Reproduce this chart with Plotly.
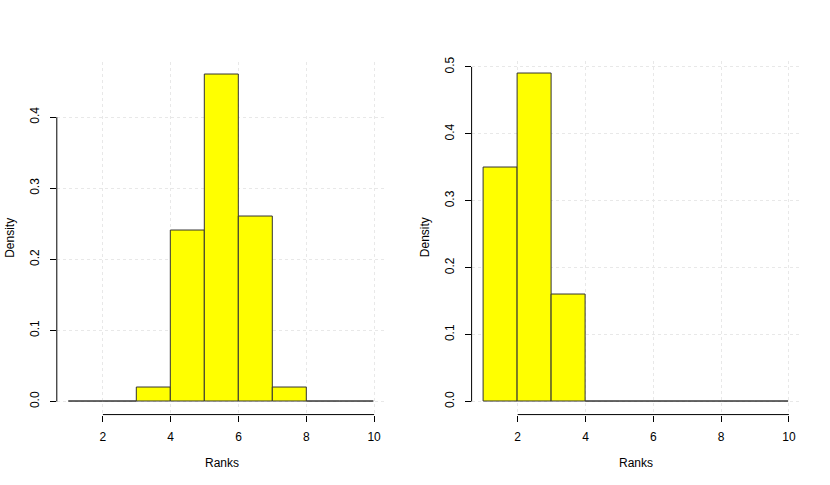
import plotly.graph_objects as go

# bin edges shared by both histograms (ranks 1..10, unit width)
bin_edges = [1, 2, 3, 4, 5, 6, 7, 8, 9, 10]
left_density = [0.0, 0.0, 0.02, 0.24, 0.46, 0.26, 0.02, 0.0, 0.0]
right_density = [0.35, 0.49, 0.16, 0.0, 0.0, 0.0, 0.0, 0.0, 0.0]

x_ticks = [2, 4, 6, 8, 10]
left_y_ticks = [0.0, 0.1, 0.2, 0.3, 0.4]
right_y_ticks = [0.0, 0.1, 0.2, 0.3, 0.4, 0.5]

W, H = 830, 485
FONT = "Liberation Sans, Arial, sans-serif"


def r_range(lo, hi):
    pad = (hi - lo) * 0.04
    return [lo - pad, hi + pad]


centers = [(a + b) / 2 for a, b in zip(bin_edges[:-1], bin_edges[1:])]
widths = [b - a for a, b in zip(bin_edges[:-1], bin_edges[1:])]

fig = go.Figure()
panels = [
    ("x", "y", left_density, left_y_ticks, (56.8, 386.3), (414, 58)),
    ("x2", "y2", right_density, right_y_ticks, (471.6, 801.1), (414, 57)),
]
for xa, ya, dens, yt, (px0, px1), (pyb, pyt) in panels:
    fig.add_trace(go.Bar(
        x=centers, y=dens, width=widths, xaxis=xa, yaxis=ya,
        marker=dict(color="#ffff00", line=dict(color="#333333", width=1)),
        showlegend=False, hoverinfo="skip"))
    n = xa[1:] or ""
    xr = r_range(bin_edges[0], bin_edges[-1])
    yr = r_range(0, max(dens))
    axis_common = dict(ticks="outside", ticklen=6, tickwidth=1, tickcolor="black",
                       showline=False, zeroline=False, showgrid=True,
                       gridcolor="#e8e8e8", griddash="dot", gridwidth=1,
                       tickfont=dict(family=FONT, size=12, color="black"))
    fig.layout["xaxis" + n] = dict(
        domain=[px0 / W, px1 / W], range=xr, tickvals=x_ticks,
        anchor=ya, ticklabelstandoff=5, **axis_common)
    fig.layout["yaxis" + n] = dict(
        domain=[(H - pyb) / H, (H - pyt) / H], range=yr, tickvals=yt,
        ticktext=[f"{v:.1f}" for v in yt], tickangle=-90,
        anchor=xa, ticklabelstandoff=6, **axis_common)
    # R-style detached axis lines spanning only the ticks
    fig.add_shape(type="line", xref=xa, yref=ya + " domain",
                  x0=x_ticks[0], x1=x_ticks[-1], y0=0, y1=0,
                  line=dict(color="black", width=1))
    fig.add_shape(type="line", xref=xa + " domain", yref=ya,
                  x0=0, x1=0, y0=yt[0], y1=yt[-1],
                  line=dict(color="black", width=1))
    fig.add_annotation(text="Ranks", xref="paper", yref="paper",
                       x=(px0 + px1) / 2 / W, y=(H - 463) / H,
                       xanchor="center", yanchor="middle",
                       showarrow=False, font=dict(family=FONT, size=12, color="black"))
    fig.add_annotation(text="Density", xref="paper", yref="paper",
                       x=(px0 - 47) / W, y=(H - (pyb + pyt) / 2) / H, textangle=-90,
                       xanchor="center", yanchor="middle",
                       showarrow=False, font=dict(family=FONT, size=12, color="black"))

fig.update_layout(width=W, height=H, margin=dict(l=0, r=0, t=0, b=0),
                  plot_bgcolor="white", paper_bgcolor="white", bargap=0)
fig.write_html("out.html", config={"displayModeBar": False},
               post_script="document.body.style.margin='0px';")
